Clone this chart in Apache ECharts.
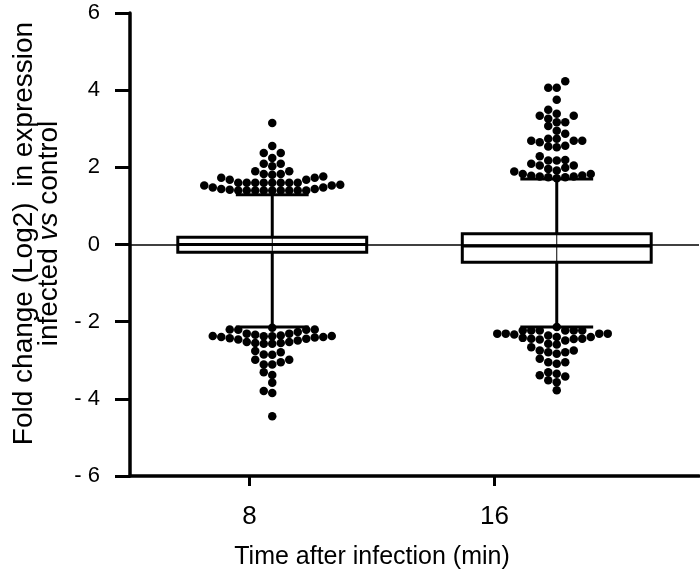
<!DOCTYPE html>
<html>
<head>
<meta charset="utf-8">
<script src="https://cdn.jsdelivr.net/npm/echarts@6/dist/echarts.min.js"></script>
<style>
html,body{margin:0;padding:0;background:#fff;}
#chart{width:700px;height:575px;}
</style>
</head>
<body>
<div id="chart"></div>
<script>
// ---- data ----
const groups = ['8', '16'];
const yTicks = [-6, -4, -2, 0, 2, 4, 6];
const lowerWhisker = [-2.14, -2.14];
const q1 = [-0.20, -0.46];
const median = [0.0, -0.04];
const q3 = [0.19, 0.28];
const upperWhisker = [1.29, 1.70];
const outliers8 = [
  1.40, 1.40, 1.40, 1.40, 1.40, 1.40, 1.40, 1.40, 1.40, 1.42, 1.44, 1.44, 1.48, 1.48, 1.53, 1.53, 1.55,
  1.60, 1.60, 1.60, 1.60, 1.60, 1.60, 1.60, 1.60, 1.68, 1.68, 1.73, 1.73, 1.76, 1.81, 1.83, 1.83,
  1.90, 1.90, 2.03, 2.09, 2.09, 2.24, 2.37, 2.37, 2.55, 3.15,
  -2.16, -2.20, -2.20, -2.21, -2.21, -2.27, -2.31, -2.31, -2.34, -2.36, -2.37, -2.37, -2.38, -2.38,
  -2.40, -2.40, -2.41, -2.43, -2.44, -2.46, -2.49, -2.53, -2.53, -2.55, -2.55, -2.57, -2.57,
  -2.76, -2.79, -2.85, -2.86, -2.99, -2.99, -3.05, -3.11, -3.11, -3.31, -3.38, -3.58, -3.80, -3.85, -4.45
];
const outliers16 = [
  1.72, 1.74, 1.74, 1.76, 1.76, 1.78, 1.79, 1.83, 1.83, 1.89, 1.92, 1.96, 1.99, 2.05, 2.05, 2.09,
  2.18, 2.18, 2.19, 2.29, 2.52, 2.54, 2.56, 2.65, 2.69, 2.69, 2.69, 2.74, 2.74, 2.87, 2.95, 3.07,
  3.17, 3.17, 3.26, 3.34, 3.34, 3.39, 3.49, 3.75, 4.06, 4.06, 4.23,
  -2.14, -2.23, -2.23, -2.23, -2.23, -2.23, -2.23, -2.31, -2.31, -2.31, -2.31, -2.33, -2.36,
  -2.40, -2.40, -2.42, -2.44, -2.44, -2.45, -2.46, -2.49, -2.57, -2.59, -2.66, -2.75, -2.75,
  -2.79, -2.79, -2.83, -2.96, -3.05, -3.05, -3.09, -3.31, -3.35, -3.39, -3.42, -3.52, -3.57, -3.78
];
const outliers = [outliers8, outliers16];

// ---- chart ----
const FONT = '"Liberation Sans", Arial, Helvetica, sans-serif';
const chart = echarts.init(document.getElementById('chart'), null, {renderer: 'canvas'});

const boxData = groups.map((g, i) => [i, lowerWhisker[i], q1[i], median[i], q3[i], upperWhisker[i]]);

function renderBox(params, api) {
  const i = api.value(0);
  const xc = api.coord([i, 0])[0];
  const unit = api.size([1, 0])[0];
  const hb = unit * 0.332;
  const hc = unit * 0.128;
  const py = k => api.coord([i, api.value(k)])[1];
  const yLo = py(1), yQ1 = py(2), yMed = py(3), yQ3 = py(4), yHi = py(5);
  const st = {stroke: '#000', lineWidth: 3, fill: null};
  return {
    type: 'group',
    children: [
      {type: 'line', shape: {x1: xc, y1: yQ3, x2: xc, y2: yQ1}, style: {stroke: '#000', lineWidth: 1}},
      {type: 'rect', shape: {x: xc - hb, y: yQ3, width: 2 * hb, height: yQ1 - yQ3}, style: {stroke: '#000', lineWidth: 3, fill: 'rgba(0,0,0,0)'}},
      {type: 'line', shape: {x1: xc - hb, y1: yMed, x2: xc + hb, y2: yMed}, style: st},
      {type: 'line', shape: {x1: xc, y1: yQ3, x2: xc, y2: yHi}, style: st},
      {type: 'line', shape: {x1: xc - hc, y1: yHi, x2: xc + hc, y2: yHi}, style: st},
      {type: 'line', shape: {x1: xc, y1: yQ1, x2: xc, y2: yLo}, style: st},
      {type: 'line', shape: {x1: xc - hc, y1: yLo, x2: xc + hc, y2: yLo}, style: st}
    ]
  };
}

const option = {
  animation: false,
  backgroundColor: '#fff',
  textStyle: {fontFamily: FONT, color: '#000'},
  grid: [
    {left: 130, right: 1, top: 13, bottom: 99},
    {left: 127, width: 490, top: 13, bottom: 99}
  ],
  xAxis: [
    {
      gridIndex: 0, type: 'value', min: -0.5, max: 1.5,
      axisLine: {show: true, onZero: false, lineStyle: {color: '#000', width: 3.5}},
      axisTick: {show: false}, axisLabel: {show: false}, splitLine: {show: false}
    },
    {
      gridIndex: 1, type: 'category', data: groups,
      axisLine: {show: false, onZero: false},
      axisTick: {show: true, alignWithLabel: true, length: 11, lineStyle: {color: '#000', width: 3}},
      axisLabel: {fontSize: 26, color: '#000', margin: 29, fontFamily: FONT},
      name: 'Time after infection (min)', nameLocation: 'middle', nameGap: 70,
      nameTextStyle: {fontSize: 25, color: '#000', fontFamily: FONT}
    }
  ],
  yAxis: [
    {
      gridIndex: 0, type: 'value', min: yTicks[0], max: yTicks[yTicks.length - 1], interval: 2,
      axisLine: {show: true, onZero: false, lineStyle: {color: '#000', width: 3.5}},
      axisTick: {show: true, length: 15, lineStyle: {color: '#000', width: 3}},
      axisLabel: {
        fontSize: 22, color: '#000', margin: 30, fontFamily: FONT,
        formatter: v => (v < 0 ? '- ' + Math.abs(v) : String(v))
      },
      splitLine: {show: false},
      name: '{a|Fold change (Log2)  in expression}\n{a|infected }{i|vs}{a| control}',
      nameLocation: 'middle', nameGap: 61,
      nameTextStyle: {
        color: '#000', fontFamily: FONT, fontSize: 28, lineHeight: 25,
        padding: [0, 0, 0, 22],
        rich: {
          a: {fontSize: 28, lineHeight: 25, color: '#000', fontFamily: FONT},
          i: {fontSize: 28, lineHeight: 25, color: '#000', fontFamily: FONT, fontStyle: 'italic'}
        }
      }
    },
    {gridIndex: 1, type: 'value', min: -6, max: 6, show: false}
  ],
  series: [
    {
      type: 'custom', xAxisIndex: 0, yAxisIndex: 0, renderItem: renderBox,
      data: boxData, encode: {x: 0, y: [1, 2, 3, 4, 5]}, z: 3,
      markLine: {
        silent: true, symbol: 'none', label: {show: false},
        lineStyle: {color: '#000', width: 1.5, type: 'solid'},
        data: [{yAxis: 0}]
      }
    }
  ]
};
chart.setOption(option);

// ---- beeswarm layout (columns, computed in pixel space from the axes) ----
function swarm(values, gi) {
  const p0 = chart.convertToPixel({gridIndex: 0}, [0, 0]);
  const p1 = chart.convertToPixel({gridIndex: 0}, [1, 0]);
  const pxPerX = p1[0] - p0[0];
  const colStep = 8.5 / pxPerX;
  const minDy = 7;
  const sorted = values.slice().sort((a, b) => a - b);
  const cols = {};
  const pts = [];
  sorted.forEach(v => {
    const py = chart.convertToPixel({gridIndex: 0}, [0, v])[1];
    for (let k = 0; k < 200; k++) {
      const c = k === 0 ? 0 : (k % 2 === 1 ? -Math.ceil(k / 2) : Math.ceil(k / 2));
      const arr = cols[c] || (cols[c] = []);
      if (arr.every(p => Math.abs(p - py) >= minDy)) {
        arr.push(py);
        pts.push([gi + c * colStep, v]);
        break;
      }
    }
  });
  return pts;
}

const dotStyle = {color: '#000', opacity: 1};
chart.setOption({
  series: [
    option.series[0],
    {type: 'scatter', xAxisIndex: 0, yAxisIndex: 0, symbol: 'circle', symbolSize: 8.5,
     itemStyle: dotStyle, data: swarm(outliers[0], 0), z: 4},
    {type: 'scatter', xAxisIndex: 0, yAxisIndex: 0, symbol: 'circle', symbolSize: 8.5,
     itemStyle: dotStyle, data: swarm(outliers[1], 1), z: 4}
  ]
});
</script>
</body>
</html>
